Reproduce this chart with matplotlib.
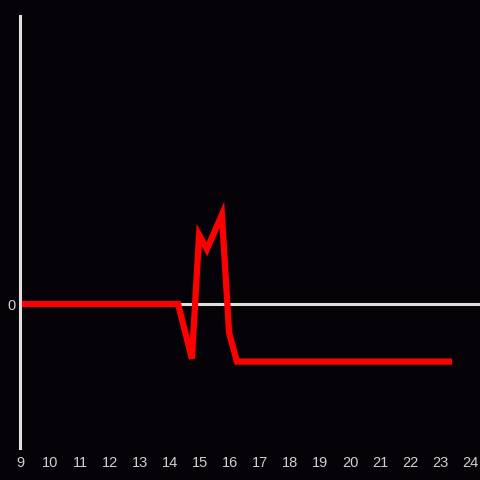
import matplotlib
matplotlib.use("Agg")
import matplotlib.pyplot as plt

x_vals = [9.0, 14.27, 14.73, 14.97, 15.23, 15.73, 15.97, 16.23, 23.3]
y_vals = [0.0, 0.0, -0.19, 0.24, 0.19, 0.31, -0.10, -0.20, -0.20]
x_ticks = list(range(9, 25))
y_ticks = [0]

bg = "#050307"
fg = "#e0e0e0"

fig = plt.figure(figsize=(4.8, 4.8), dpi=100, facecolor=bg)
ax = fig.add_axes([20/480, 32/480, 460/480, 432/480], facecolor=bg)
ax.set_xlim(9, 9 + 460/30)
ax.set_ylim(-0.5, 1.0)

ax.axhline(0, color=fg, lw=2.2, zorder=1)
ax.plot(x_vals, y_vals, color="#ff0000", lw=4.5, zorder=2, solid_joinstyle="miter")

for s in ["top", "right", "bottom"]:
    ax.spines[s].set_visible(False)
ax.spines["left"].set_color(fg)
ax.spines["left"].set_linewidth(2.2)
ax.spines["left"].set_zorder(3)

ax.set_xticks(x_ticks)
ax.set_xticklabels([str(t) for t in x_ticks])
ax.set_yticks(y_ticks)
ax.set_yticklabels(["0"])
ax.tick_params(axis="both", length=0, colors="#d0d0d0", labelsize=10.5)
ax.tick_params(axis="x", pad=6)
ax.tick_params(axis="y", pad=3)
for lab in ax.get_xticklabels() + ax.get_yticklabels():
    lab.set_fontfamily("Liberation Sans")

fig.savefig("out.png", dpi=100, facecolor=bg)
